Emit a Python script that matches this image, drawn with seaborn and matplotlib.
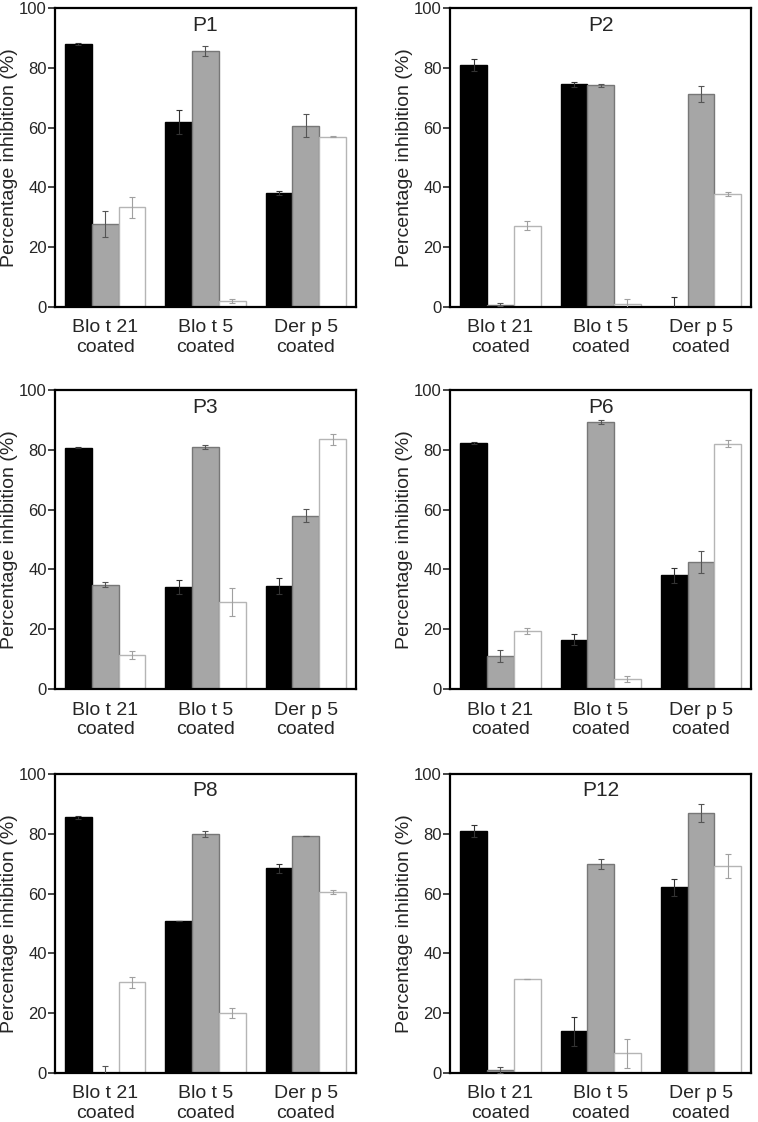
import numpy as np
import pandas as pd
import seaborn as sns
import matplotlib.pyplot as plt

# categories
coatings = ['Blo t 21\ncoated', 'Blo t 5\ncoated', 'Der p 5\ncoated']
inhibitors = ['Blo t 21', 'Blo t 5', 'Der p 5']  # black, grey, white bars

# mean % inhibition, one row per coating, columns = inhibitor
p1 = [[88.0, 27.8, 33.3], [62.0, 85.5, 2.0], [38.1, 60.6, 56.9]]
p2 = [[80.9, 0.8, 27.2], [74.5, 74.2, 1.1], [0.0, 71.3, 37.7]]
p3 = [[80.7, 34.9, 11.4], [34.1, 80.9, 29.1], [34.4, 58.0, 83.5]]
p6 = [[82.3, 11.0, 19.3], [16.5, 89.2, 3.2], [38.0, 42.5, 82.1]]
p8 = [[85.6, 0.0, 30.3], [50.8, 79.9, 20.1], [68.4, 79.3, 60.4]]
p12 = [[80.8, 0.9, 31.4], [13.9, 69.9, 6.6], [62.1, 87.0, 69.2]]

# error bars (+/-)
p1_err = [[0.3, 4.4, 3.4], [4.0, 1.7, 0.8], [0.7, 3.9, 0.2]]
p2_err = [[2.1, 0.6, 1.6], [0.9, 0.5, 1.5], [3.2, 2.7, 0.6]]
p3_err = [[0.2, 0.9, 1.4], [2.3, 0.7, 4.8], [2.7, 2.2, 1.9]]
p6_err = [[0.3, 2.1, 1.0], [1.8, 0.7, 1.0], [2.5, 3.6, 1.3]]
p8_err = [[0.5, 2.4, 1.8], [0.1, 0.9, 1.7], [1.5, 0.1, 0.7]]
p12_err = [[2.0, 1.0, 0.1], [4.8, 1.7, 4.9], [2.8, 3.0, 4.0]]

panel_names = ['P1', 'P2', 'P3', 'P6', 'P8', 'P12']
panel_vals = [p1, p2, p3, p6, p8, p12]
panel_errs = [p1_err, p2_err, p3_err, p6_err, p8_err, p12_err]

sns.set_style('ticks')
plt.rcParams['font.family'] = ['Liberation Sans', 'DejaVu Sans']

fill = {'Blo t 21': 'black', 'Blo t 5': '#a6a6a6', 'Der p 5': 'white'}
edge = ['black', '#777777', '#b5b5b5']
ecol = ['#333333', '#555555', '#a0a0a0']

fig = plt.figure(figsize=(7.58, 11.22), dpi=100)

# axes rectangles (left, bottom, width, height) in figure fraction
lefts = [0.0726, 0.594]
bottoms = [0.7264, 0.3859, 0.0437]

for k, name in enumerate(panel_names):
    ax = fig.add_axes([lefts[k % 2], bottoms[k // 2], 0.397, 0.2665])

    rows = []
    for i, c in enumerate(coatings):
        for j, inh in enumerate(inhibitors):
            rows.append({'coating': c, 'inhibitor': inh,
                         'value': panel_vals[k][i][j], 'err': panel_errs[k][i][j]})
    df = pd.DataFrame(rows)

    sns.barplot(data=df, x='coating', y='value', hue='inhibitor', order=coatings,
                hue_order=inhibitors, palette=fill, width=0.8, gap=0,
                errorbar=None, legend=False, ax=ax)

    bar_sets = list(ax.containers)
    for j, cont in enumerate(bar_sets):
        for i, bar in enumerate(cont.patches):
            bar.set_edgecolor(edge[j])
            bar.set_linewidth(1.0)
            x = bar.get_x() + bar.get_width() / 2
            ax.errorbar(x, bar.get_height(), yerr=panel_errs[k][i][j], fmt='none',
                        ecolor=ecol[j], elinewidth=0.8, capsize=2, capthick=0.8,
                        zorder=5)

    ax.set_ylim(0, 100)
    ax.set_xlim(-0.5, 2.5)
    ax.set_yticks([0, 20, 40, 60, 80, 100])
    ax.tick_params(axis='y', labelsize=12, length=5, width=1.2, pad=1)
    ax.tick_params(axis='x', labelsize=14, length=0, pad=9)
    ax.set_xlabel('')
    ax.set_ylabel('Percentage inhibition (%)', fontsize=14, labelpad=1)
    for s in ax.spines.values():
        s.set_visible(True)
        s.set_linewidth(1.6)
        s.set_color('black')
    ax.text(0.5, 0.943, name, transform=ax.transAxes, ha='center', va='center',
            fontsize=15)

fig.savefig('out.png', dpi=100)
